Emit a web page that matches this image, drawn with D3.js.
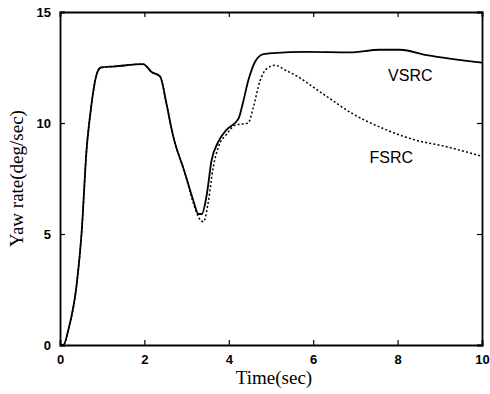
<!DOCTYPE html>
<html>
<head>
<meta charset="utf-8">
<script src="https://cdn.jsdelivr.net/npm/d3@7"></script>
<style>
  html, body { margin: 0; padding: 0; background: #fff; }
  svg { display: block; }
</style>
</head>
<body>
<div id="chart"></div>
<script>
// Series: [time (sec), yaw rate (deg/sec)]
const vsrc = [
  [0, 0], [0.08, 0], [0.2, 0.7], [0.4, 2.8], [0.51, 5.0], [0.63, 8.8], [0.73, 10.6],
  [0.87, 12.2], [0.97, 12.5], [1.3, 12.55], [1.97, 12.65], [2.17, 12.3], [2.37, 12.1],
  [2.53, 10.8], [2.67, 9.5], [2.96, 7.75], [3.16, 6.5], [3.28, 5.9], [3.36, 5.9],
  [3.48, 6.8], [3.59, 8.3], [3.75, 9.15], [3.95, 9.7], [4.23, 10.2], [4.34, 10.95],
  [4.46, 11.9], [4.62, 12.75], [4.82, 13.1], [5.05, 13.15], [5.85, 13.2], [6.87, 13.18],
  [7.58, 13.3], [8.06, 13.3], [8.69, 13.06], [10, 12.72]
];
const fsrc = [
  [0, 0], [0.08, 0], [0.2, 0.7], [0.4, 2.8], [0.51, 5.0], [0.63, 8.8], [0.73, 10.6],
  [0.87, 12.2], [0.97, 12.5], [1.3, 12.55], [1.97, 12.65], [2.17, 12.3], [2.37, 12.1],
  [2.53, 10.8], [2.67, 9.5], [2.96, 7.75], [3.16, 6.4], [3.3, 5.7], [3.4, 5.55],
  [3.51, 6.4], [3.63, 8.0], [3.75, 8.9], [3.95, 9.5], [4.15, 9.9], [4.46, 10.0],
  [4.58, 10.7], [4.74, 11.9], [4.9, 12.45], [5.09, 12.6], [5.37, 12.35], [5.53, 12.2],
  [6.24, 11.3], [6.95, 10.4], [7.66, 9.75], [8.37, 9.26], [9.16, 8.93], [10, 8.5]
];
const xTicks = [0, 2, 4, 6, 8, 10];
const yTicks = [0, 5, 10, 15];
const labels = [
  { name: 'VSRC', x: 8.3, y: 11.9 },
  { name: 'FSRC', x: 7.85, y: 8.2 }
];

const width = 490, height = 394;
const margin = { top: 12, right: 8, bottom: 49, left: 60 };

const x = d3.scaleLinear().domain([0, 10]).range([margin.left, width - margin.right]);
const y = d3.scaleLinear().domain([0, 15]).range([height - margin.bottom, margin.top]);

const svg = d3.select('#chart').append('svg')
  .attr('width', width)
  .attr('height', height);

const tickFont = 'bold 13px "Liberation Sans", Arial, sans-serif';

// Axes with inward ticks, mirrored on top and right
svg.append('g')
  .attr('transform', `translate(0,${y(0)})`)
  .call(d3.axisBottom(x).tickValues(xTicks).tickSize(-5).tickPadding(10).tickFormat(d3.format('d')))
  .call(g => g.selectAll('text').style('font', tickFont).attr('fill', '#000'));
svg.append('g')
  .attr('transform', `translate(0,${y(15)})`)
  .call(d3.axisTop(x).tickValues(xTicks).tickSize(-5).tickFormat(''));
svg.append('g')
  .attr('transform', `translate(${x(0)},0)`)
  .call(d3.axisLeft(y).tickValues(yTicks).tickSize(-5).tickPadding(9).tickFormat(d3.format('d')))
  .call(g => g.selectAll('text').style('font', tickFont).attr('fill', '#000'));
svg.append('g')
  .attr('transform', `translate(${x(10)},0)`)
  .call(d3.axisRight(y).tickValues(yTicks).tickSize(-5).tickFormat(''));

svg.selectAll('.domain').attr('stroke', '#000').attr('stroke-width', 1.8);
svg.selectAll('.tick line').attr('stroke', '#000').attr('stroke-width', 1.2);

const line = d3.line()
  .x(d => x(d[0]))
  .y(d => y(d[1]))
  .curve(d3.curveMonotoneX);

svg.append('path')
  .datum(fsrc)
  .attr('fill', 'none')
  .attr('stroke', '#000')
  .attr('stroke-width', 1.5)
  .attr('stroke-dasharray', '2,2.2')
  .attr('d', line);

svg.append('path')
  .datum(vsrc)
  .attr('fill', 'none')
  .attr('stroke', '#000')
  .attr('stroke-width', 1.8)
  .attr('d', line);

svg.selectAll('.series-label')
  .data(labels)
  .join('text')
  .attr('class', 'series-label')
  .attr('x', d => x(d.x))
  .attr('y', d => y(d.y))
  .attr('text-anchor', 'middle')
  .style('font', '16px "Liberation Sans", Arial, sans-serif')
  .text(d => d.name);

// Axis titles (serif, like the scan)
svg.append('text')
  .attr('x', 274)
  .attr('y', 384)
  .attr('text-anchor', 'middle')
  .style('font', '19px "Liberation Serif", "Times New Roman", serif')
  .text('Time(sec)');

svg.append('text')
  .attr('transform', `translate(23,${(y(0) + y(15)) / 2}) rotate(-90)`)
  .attr('text-anchor', 'middle')
  .style('font', '19px "Liberation Serif", "Times New Roman", serif')
  .text('Yaw rate(deg/sec)');
</script>
</body>
</html>
